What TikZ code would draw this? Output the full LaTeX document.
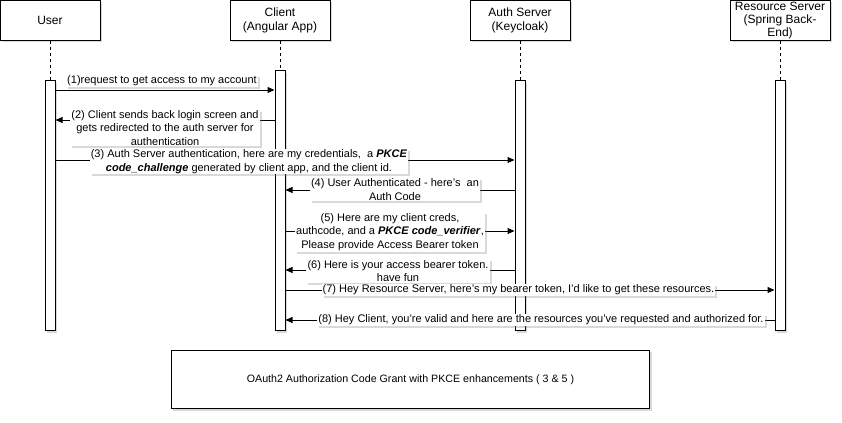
\documentclass[tikz,border=0pt]{standalone}
\usepackage{fontspec}
\setmainfont{Liberation Sans}
\usetikzlibrary{arrows.meta,shadows}
\begin{document}
\begin{tikzpicture}[x=0.75pt,y=-0.75pt,line width=0.75pt,
  shad/.style={drop shadow={shadow xshift=1.5pt,shadow yshift=-1.5pt,opacity=0.3}},
  hdr/.style={draw,fill=white,shad,minimum width=75pt,minimum height=30pt,inner sep=0pt,align=center,font=\fontsize{9}{10.5}\selectfont},
  hdrtext/.style={inner sep=0pt,align=center,font=\fontsize{9}{10}\selectfont},
  bar/.style={draw,fill=white,shad,minimum width=7.5pt,inner sep=0pt,anchor=north},
  life/.style={dash pattern=on 2.25pt off 2.25pt},
  msg/.style={-{Triangle[length=5.25pt,width=4.5pt]}},
  lbl/.style={fill=white,shad,inner sep=0.8pt,align=center,font=\fontsize{8.25}{10}\selectfont},
  note/.style={draw,fill=white,shad,minimum width=359pt,minimum height=44pt,inner sep=0pt,font=\fontsize{8}{10}\selectfont}]
\useasboundingbox (0,0) rectangle (842,422);
% headers
\node[hdr] (user) at (50,20) {User};
\node[hdr] (client) at (280,20) {Client\\(Angular App)};
\node[hdr] (auth) at (520,20) {Auth Server\\(Keycloak)};
\node[hdr] (res) at (780,20) {};
\node[hdrtext] (restext) at (780,20.5) {Resource Server\\(Spring Back-\\End)};
% activation bars
\node[bar,minimum height=187.5pt] (ub) at (50,80) {};
\node[bar,minimum height=195pt] (cb) at (280,70) {};
\node[bar,minimum height=187.5pt] (ab) at (520,80) {};
\node[bar,minimum height=187.5pt] (rb) at (780,80) {};
% lifelines
\draw[life] (user.south) -- (ub.north);
\draw[life] (client.south) -- (cb.north);
\draw[life] (auth.south) -- (ab.north);
\draw[life] (res.south) -- (rb.north);
% message levels
\coordinate (y1) at (0,90);
\coordinate (y2) at (0,120);
\coordinate (y3) at (0,160);
\coordinate (y4) at (0,190);
\coordinate (y5) at (0,231);
\coordinate (y6) at (0,270);
\coordinate (y7) at (0,290);
\coordinate (y8) at (0,320);
% messages
\draw[msg] (ub.east |- y1) -- (cb.west |- y1);
\draw[msg] (cb.west |- y2) -- (ub.east |- y2);
\draw[msg] (ub.east |- y3) -- (ab.west |- y3);
\draw[msg] (ab.west |- y4) -- (cb.east |- y4);
\draw[msg] (cb.east |- y5) -- (ab.west |- y5);
\draw[msg] (ab.west |- y6) -- (cb.east |- y6);
\draw[msg] (cb.east |- y7) -- (rb.west |- y7);
\draw[msg] (rb.west |- y8) -- (cb.east |- y8);
% labels
\node[lbl] (l1) at (162,81) {(1)request to get access to my account};
\node[lbl] (l2) at (165,128) {(2) Client sends back login screen and\\gets redirected to the auth server for\\authentication};
\node[lbl] (l3) at (249,161.5) {(3) Auth Server authentication, here are my credentials,\ \ a \textbf{\textit{PKCE}}\\\textbf{\textit{code\_challenge}} generated by client app, and the client id.};
\node[lbl] (l4) at (395,189.5) {(4) User Authenticated - here's\ \ an\\Auth Code};
\node[lbl] (l5) at (390,232) {(5) Here are my client creds,\\authcode, and a \textbf{\textit{PKCE code\_verifier}},\\Please provide Access Bearer token};
\node[lbl] (l6) at (398,271) {(6) Here is your access bearer token.\\have fun};
\node[lbl] (l7) at (518.5,290) {(7) Hey Resource Server, here's my bearer token, I'd like to get these resources.};
\node[lbl] (l8) at (541,320) {(8) Hey Client, you're valid and here are the resources you've requested and authorized for.};
% note
\node[note] (title) at (410.5,379.5) {OAuth2 Authorization Code Grant with PKCE enhancements ( 3 \& 5 )};
\end{tikzpicture}
\end{document}
